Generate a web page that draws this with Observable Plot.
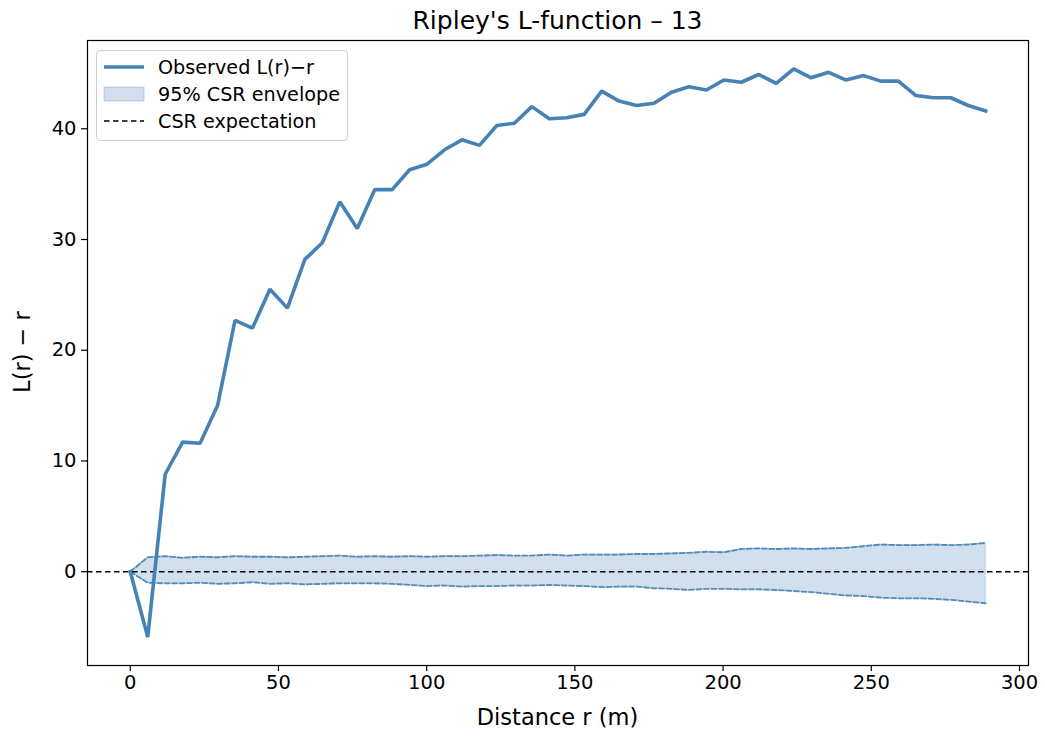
<!DOCTYPE html>
<html>
<head>
<meta charset="utf-8">
<script src="https://cdn.jsdelivr.net/npm/d3@7"></script>
<script src="https://cdn.jsdelivr.net/npm/@observablehq/plot@0.6"></script>
<style>
  body { margin: 0; background: #fff; font-family: "DejaVu Sans", sans-serif; }
  #wrap { position: relative; width: 1045px; height: 736px; }
  #title { height: 39px; line-height: 42px; padding-left: 87px; width: 941px; text-align: center; font-size: 25px; color: #000; }
  #legend { position: absolute; left: 96px; top: 50px; width: 250px; height: 89px; border: 1px solid #d0d0d0; border-radius: 4px; background: rgba(255,255,255,0.85); font-size: 19.2px; }
  .lrow { position: absolute; left: 0; height: 26px; display: flex; align-items: center; }
  .lrow svg { margin-left: 6px; margin-right: 13px; }
  .axlabel { position: absolute; font-size: 22.5px; white-space: nowrap; line-height: 1; }
  #xlabel { left: 87px; width: 941px; top: 706px; text-align: center; }
  #ylabel { left: 22px; top: 352px; transform: translate(-50%, -50%) rotate(-90deg); }
</style>
</head>
<body>
<div id="wrap">
  <div id="title">Ripley's L-function – 13</div>
  <div id="chart"></div>
  <div id="legend"></div>
  <div id="xlabel" class="axlabel">Distance r (m)</div>
  <div id="ylabel" class="axlabel">L(r) − r</div>
</div>
<script>
// Distance r (m)
const r = [0, 5.89, 11.78, 17.67, 23.56, 29.45, 35.34, 41.23, 47.12, 53.01,
  58.9, 64.79, 70.68, 76.57, 82.46, 88.35, 94.24, 100.13, 106.02, 111.91,
  117.8, 123.69, 129.58, 135.47, 141.36, 147.25, 153.14, 159.03, 164.92, 170.81,
  176.7, 182.59, 188.48, 194.37, 200.26, 206.15, 212.04, 217.93, 223.82, 229.71,
  235.6, 241.49, 247.38, 253.27, 259.16, 265.05, 270.94, 276.83, 282.72, 288.61];
// Observed L(r) - r
const observed = [0, -5.9, 8.8, 11.7, 11.6, 15.0, 22.7, 22.0, 25.5, 23.8,
  28.2, 29.7, 33.4, 31.0, 34.5, 34.5, 36.3, 36.8, 38.1, 39.0,
  38.5, 40.3, 40.5, 42.0, 40.9, 41.0, 41.3, 43.4, 42.5, 42.1,
  42.3, 43.3, 43.8, 43.5, 44.4, 44.2, 44.9, 44.1, 45.4, 44.6,
  45.1, 44.4, 44.8, 44.3, 44.3, 43.0, 42.8, 42.8, 42.1, 41.6];
// 95% CSR envelope, upper bound
const envUpper = [0, 1.3, 1.4, 1.25, 1.35, 1.3, 1.4, 1.35, 1.35, 1.3,
  1.35, 1.4, 1.45, 1.35, 1.4, 1.35, 1.4, 1.35, 1.4, 1.4,
  1.45, 1.5, 1.45, 1.45, 1.55, 1.45, 1.55, 1.55, 1.55, 1.6,
  1.6, 1.65, 1.7, 1.8, 1.75, 2.05, 2.1, 2.05, 2.1, 2.05,
  2.1, 2.15, 2.3, 2.45, 2.4, 2.4, 2.45, 2.4, 2.45, 2.6];
// 95% CSR envelope, lower bound
const envLower = [0, -1.0, -1.05, -1.05, -1.0, -1.1, -1.05, -0.95, -1.1, -1.05,
  -1.15, -1.1, -1.05, -1.05, -1.05, -1.1, -1.2, -1.3, -1.25, -1.35,
  -1.3, -1.3, -1.25, -1.25, -1.2, -1.25, -1.3, -1.4, -1.35, -1.35,
  -1.5, -1.55, -1.65, -1.55, -1.55, -1.6, -1.6, -1.65, -1.75, -1.85,
  -2.0, -2.15, -2.2, -2.35, -2.4, -2.4, -2.45, -2.55, -2.7, -2.85];
const csrExpectation = [0];
const xTicks = [0, 50, 100, 150, 200, 250, 300];
const yTicks = [0, 10, 20, 30, 40];

const data = r.map((d, i) => ({r: d, obs: observed[i], hi: envUpper[i], lo: envLower[i]}));
const blue = "steelblue";

const chart = Plot.plot({
  width: 1045,
  height: 697,
  marginLeft: 87,
  marginRight: 17,
  marginTop: 1,
  marginBottom: 71,
  style: {fontFamily: "DejaVu Sans, sans-serif", fontSize: "19.5px", color: "#000", background: "#fff"},
  x: {domain: [-14.43, 303.04]},
  y: {domain: [-8.47, 47.97]},
  marks: [
    Plot.areaY(data, {x: "r", y1: "lo", y2: "hi", fill: blue, fillOpacity: 0.25, stroke: blue, strokeOpacity: 0.25, strokeWidth: 1}),
    Plot.line(data, {x: "r", y: "hi", stroke: blue, strokeOpacity: 0.9, strokeWidth: 1.8, strokeDasharray: "5,2.5"}),
    Plot.line(data, {x: "r", y: "lo", stroke: blue, strokeOpacity: 0.9, strokeWidth: 1.8, strokeDasharray: "5,2.5"}),
    Plot.ruleY(csrExpectation, {stroke: "#000", strokeWidth: 1.5, strokeDasharray: "5.5,3.5"}),
    Plot.line(data, {x: "r", y: "obs", stroke: blue, strokeWidth: 3.6, strokeLinejoin: "miter", strokeLinecap: "square"}),
    Plot.frame({stroke: "#000", strokeWidth: 1.2}),
    Plot.axisX(xTicks, {tickSize: 6, tickPadding: 4, strokeWidth: 1.2, label: null}),
    Plot.axisY(yTicks, {tickSize: 6, tickPadding: 5, strokeWidth: 1.2, label: null})
  ]
});
document.getElementById("chart").appendChild(chart);

// Legend
const legend = document.getElementById("legend");
const items = [
  {label: "Observed L(r)−r", svg: `<svg width="42" height="14"><line x1="1" x2="41" y1="7" y2="7" stroke="${blue}" stroke-width="3.6"/></svg>`, top: 3},
  {label: "95% CSR envelope", svg: `<svg width="42" height="16"><rect x="1" y="1" width="40" height="14" fill="${blue}" fill-opacity="0.25" stroke="${blue}" stroke-opacity="0.3" stroke-width="1"/></svg>`, top: 30},
  {label: "CSR expectation", svg: `<svg width="42" height="14"><line x1="1" x2="41" y1="7" y2="7" stroke="#000" stroke-width="1.5" stroke-dasharray="5.5,3.5"/></svg>`, top: 57}
];
for (const it of items) {
  const row = document.createElement("div");
  row.className = "lrow";
  row.style.top = it.top + "px";
  row.innerHTML = it.svg + `<span>${it.label}</span>`;
  legend.appendChild(row);
}
</script>
</body>
</html>
